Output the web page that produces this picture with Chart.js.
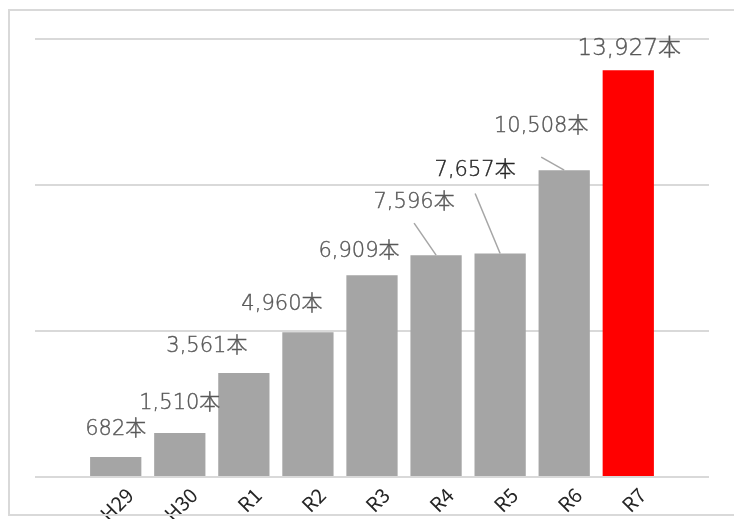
<!DOCTYPE html>
<html>
<head>
<meta charset="utf-8">
<script src="https://cdn.jsdelivr.net/npm/chart.js@4"></script>
<style>
  html, body { margin: 0; padding: 0; background: #fff; overflow: hidden; }
  #wrap { position: relative; width: 734px; height: 519px; }
  #marco { position: absolute; left: 8px; top: 9px; width: 760px; height: 503px; border: 2px solid #d9d9d9; pointer-events: none; }
  canvas { position: absolute; left: 0; top: 0; }
</style>
</head>
<body>
<div id="wrap">
  <canvas id="grafico" width="734" height="519"></canvas>
  <div id="marco"></div>
</div>
<script>
// datos del gráfico
const categorias = ["H29", "H30", "R1", "R2", "R3", "R4", "R5", "R6", "R7"];
const cantidades = [682, 1510, 3561, 4960, 6909, 7596, 7657, 10508, 13927];
const ticksY = [0, 5000, 10000, 15000];
const unidad = "本";

// colores: último año en rojo
const gris = "#a5a5a5";
const rojo = "#ff0000";
const colores = categorias.map((c, i) => i === categorias.length - 1 ? rojo : gris);

// desplazamiento de cada etiqueta respecto a la barra (como en el original)
const ajustesEtiqueta = [
    { dx: 0, dy: -28 },
    { dx: 0, dy: -29 },
    { dx: -37, dy: -26 },
    { dx: -26, dy: -28 },
    { dx: -13, dy: -24 },
    { dx: -22, dy: -53, guia: 21 },
    { dx: -25, dy: -83, guia: 23, color: "#262626" },
    { dx: -23, dy: -44, guia: 31 },
    { dx: 1, dy: -21, size: 23 }
];

const fuente = "'Noto Sans CJK JP', 'Noto Sans', sans-serif";
const fuenteNum = "'DejaVu Sans', 'Noto Sans CJK JP', sans-serif";

// etiquetas de datos con líneas guía
const etiquetas = {
    id: "etiquetas",
    afterDatasetsDraw(chart, args, opts) {
        const ctx = chart.ctx;
        const meta = chart.getDatasetMeta(0);
        meta.data.forEach((barra, i) => {
            const aj = opts.ajustes[i];
            const x = barra.x + aj.dx;
            const y = barra.y + aj.dy;
            const texto = cantidades[i].toLocaleString("en-US") + unidad;
            ctx.save();
            if (aj.guia) {
                ctx.strokeStyle = "#a6a6a6";
                ctx.lineWidth = 1.5;
                ctx.beginPath();
                ctx.moveTo(x, y + aj.guia);
                ctx.lineTo(barra.x, barra.y);
                ctx.stroke();
            }
            ctx.font = "200 " + (aj.size || 21) + "px " + fuenteNum;
            ctx.fillStyle = aj.color || "#595959";
            ctx.strokeStyle = aj.color || "#595959";
            ctx.lineWidth = 0.4;
            ctx.textAlign = "center";
            ctx.textBaseline = "middle";
            ctx.fillText(texto, x, y);
            ctx.strokeText(texto, x, y); //un poco más grueso
            ctx.restore();
        });
    }
};

const ctx = document.getElementById("grafico").getContext("2d");
const grafico = new Chart(ctx, {
    type: "bar",
    data: {
        datasets: [{
            data: cantidades.map((v, i) => ({ x: i, y: v })),
            backgroundColor: colores,
            barPercentage: 0.8,
            categoryPercentage: 1.0
        }]
    },
    options: {
        responsive: false,
        animation: false,
        layout: { padding: { left: 35, right: 25, top: 39, bottom: 0 } },
        plugins: {
            legend: { display: false },
            tooltip: { enabled: false },
            etiquetas: { ajustes: ajustesEtiqueta }
        },
        scales: {
            x: {
                type: "linear",
                offset: false,
                min: -1.26,
                max: categorias.length - 1 + 1.26,
                grid: { display: false },
                border: { display: false },
                afterBuildTicks: s => { s.ticks = categorias.map((c, i) => ({ value: i })); },
                afterFit: s => { s.height = 42; },
                ticks: {
                    autoSkip: false,
                    maxRotation: 45,
                    minRotation: 45,
                    padding: -2,
                    labelOffset: 14,
                    color: "#262626",
                    font: { family: fuente, size: 20 },
                    callback: v => categorias[v]
                }
            },
            y: {
                display: true,
                min: ticksY[0],
                max: ticksY[ticksY.length - 1],
                afterBuildTicks: s => { s.ticks = ticksY.map(v => ({ value: v })); },
                afterFit: s => { s.width = 0; },
                border: { display: false },
                grid: { color: "#d9d9d9", lineWidth: 2, drawTicks: false },
                ticks: { display: false }
            }
        }
    },
    plugins: [etiquetas]
});
</script>
</body>
</html>
